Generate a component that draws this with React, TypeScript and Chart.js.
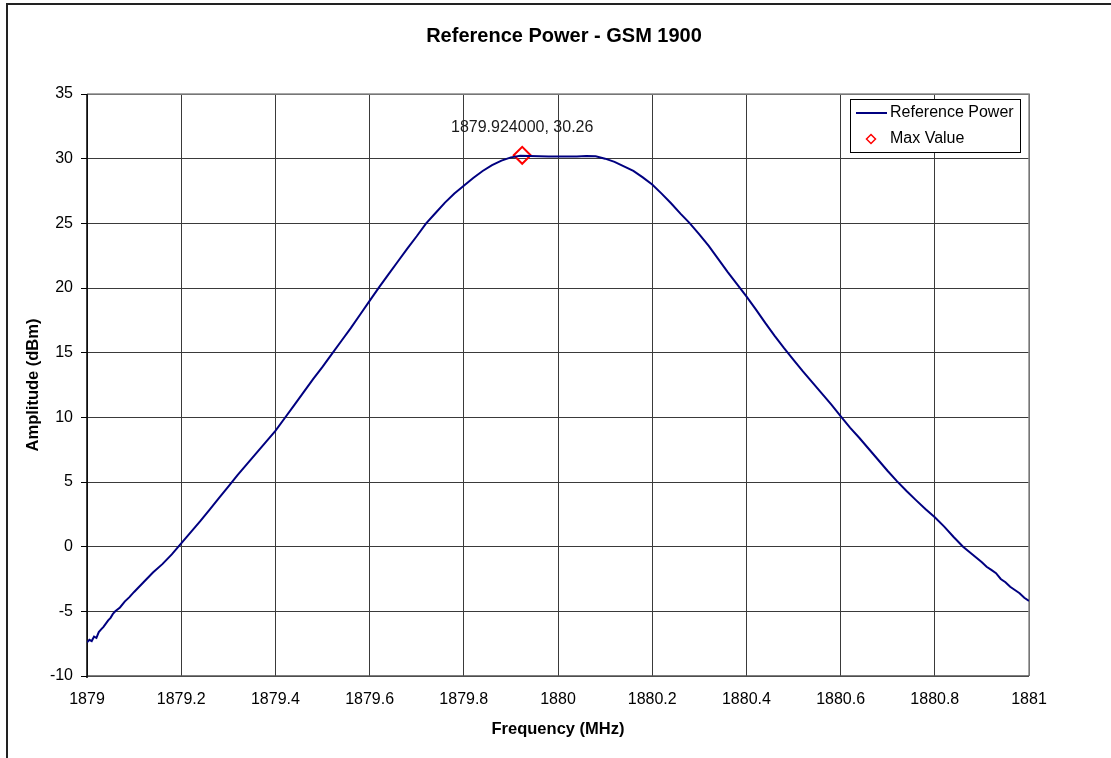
import React, { useEffect, useRef } from "react";
import { Chart, registerables } from "chart.js";

Chart.register(...registerables);

const chartTitle = "Reference Power - GSM 1900";
const xAxisTitle = "Frequency (MHz)";
const yAxisTitle = "Amplitude (dBm)";
const seriesName = "Reference Power";
const maxName = "Max Value";

const freqs = [
  1879.0, 1879.005, 1879.01, 1879.015, 1879.02, 1879.025, 1879.03, 1879.035, 1879.04, 1879.045,
  1879.05, 1879.055, 1879.06, 1879.07, 1879.08, 1879.09, 1879.1,
  1879.12, 1879.14, 1879.16, 1879.18, 1879.2, 1879.22, 1879.24, 1879.26, 1879.28, 1879.3,
  1879.32, 1879.34, 1879.36, 1879.38, 1879.4, 1879.42, 1879.44, 1879.46, 1879.48, 1879.5,
  1879.52, 1879.54, 1879.56, 1879.58, 1879.6, 1879.62, 1879.64, 1879.66, 1879.68, 1879.7,
  1879.72, 1879.74, 1879.76, 1879.78, 1879.8, 1879.82, 1879.84, 1879.86, 1879.88, 1879.9,
  1879.92, 1879.94, 1879.96, 1879.98, 1880.0, 1880.02, 1880.04, 1880.06, 1880.08, 1880.1,
  1880.12, 1880.14, 1880.16, 1880.18, 1880.2, 1880.22, 1880.24, 1880.26, 1880.28, 1880.3,
  1880.32, 1880.34, 1880.36, 1880.38, 1880.4, 1880.42, 1880.44, 1880.46, 1880.48, 1880.5,
  1880.52, 1880.54, 1880.56, 1880.58, 1880.6, 1880.62, 1880.64, 1880.66, 1880.68, 1880.7,
  1880.72, 1880.74, 1880.76, 1880.78, 1880.8, 1880.82, 1880.84, 1880.86, 1880.88, 1880.9,
  1880.91, 1880.92, 1880.93, 1880.94, 1880.95, 1880.96, 1880.97, 1880.98, 1880.99, 1881.0,
];

const power = [
  -7.4, -7.2, -7.3, -6.95, -7.05, -6.6, -6.4, -6.2, -5.95, -5.7,
  -5.5, -5.2, -5.0, -4.7, -4.25, -3.9, -3.5,
  -2.75, -2.0, -1.35, -0.6, 0.25, 1.1, 1.95, 2.85, 3.75, 4.65,
  5.55, 6.4, 7.25, 8.1, 8.95, 9.95, 10.95, 11.95, 12.95, 13.9,
  14.9, 15.9, 16.9, 17.95, 19.0, 20.05, 21.05, 22.05, 23.05, 24.0,
  25.0, 25.8, 26.6, 27.3, 27.9, 28.5, 29.05, 29.5, 29.85, 30.1,
  30.22, 30.2, 30.18, 30.17, 30.16, 30.16, 30.17, 30.2, 30.18, 30.0,
  29.75, 29.4, 29.05, 28.55, 28.0, 27.3, 26.55, 25.75, 25.0, 24.15,
  23.25, 22.25, 21.25, 20.3, 19.35, 18.35, 17.3, 16.3, 15.35, 14.45,
  13.55, 12.7, 11.85, 11.0, 10.1, 9.2, 8.4, 7.55, 6.7, 5.85,
  5.05, 4.3, 3.6, 2.92, 2.27, 1.55, 0.75, 0.0, -0.6, -1.2,
  -1.55, -1.8, -2.05, -2.5, -2.75, -3.1, -3.35, -3.6, -3.95, -4.2,
];

const maxFreq = 1879.924;
const maxPower = 30.26;
const maxLabel = "1879.924000, 30.26";

const xTickValues = [1879, 1879.2, 1879.4, 1879.6, 1879.8, 1880, 1880.2, 1880.4, 1880.6, 1880.8, 1881];
const xTickLabels = ["1879", "1879.2", "1879.4", "1879.6", "1879.8", "1880", "1880.2", "1880.4", "1880.6", "1880.8", "1881"];
const yTickValues = [-10, -5, 0, 5, 10, 15, 20, 25, 30, 35];
const yTickLabels = ["-10", "-5", "0", "5", "10", "15", "20", "25", "30", "35"];

const FONT = "'Liberation Sans', Arial, Helvetica, sans-serif";
const W = 1111;
const H = 758;

const decorPlugin = {
  id: "decor",
  beforeDraw(chart: any) {
    const ctx = chart.ctx;
    ctx.save();
    ctx.fillStyle = "#ffffff";
    ctx.fillRect(0, 0, W, H);
    ctx.strokeStyle = "#222222";
    ctx.lineWidth = 2;
    ctx.strokeRect(7, 4, 1300, 1300);
    ctx.restore();
  },
  beforeDatasetsDraw(chart: any) {
    const { ctx, chartArea } = chart;
    const { left, right, top, bottom } = chartArea;
    ctx.save();
    ctx.lineWidth = 1.5;
    ctx.strokeStyle = "#8a8a8a";
    ctx.beginPath();
    ctx.moveTo(left, top);
    ctx.lineTo(right, top);
    ctx.lineTo(right, bottom);
    ctx.stroke();
    ctx.strokeStyle = "#555555";
    ctx.beginPath();
    ctx.moveTo(left, bottom);
    ctx.lineTo(right, bottom);
    ctx.stroke();
    ctx.strokeStyle = "#000000";
    ctx.lineWidth = 1.5;
    ctx.beginPath();
    ctx.moveTo(left, top);
    ctx.lineTo(left, bottom + 2);
    ctx.stroke();
    ctx.restore();
  },
  afterDraw(chart: any) {
    const { ctx, chartArea, scales } = chart;
    ctx.save();
    ctx.fillStyle = "#000000";
    ctx.textAlign = "center";
    ctx.textBaseline = "middle";
    ctx.font = `bold 20px ${FONT}`;
    ctx.fillText(chartTitle, 564, 36);
    ctx.font = `bold 16.5px ${FONT}`;
    ctx.fillText(xAxisTitle, (chartArea.left + chartArea.right) / 2, 729);
    ctx.save();
    ctx.translate(33, 385);
    ctx.rotate(-Math.PI / 2);
    ctx.fillText(yAxisTitle, 0, 0);
    ctx.restore();
    const mx = scales.x.getPixelForValue(maxFreq);
    const my = scales.y.getPixelForValue(maxPower);
    ctx.font = `16px ${FONT}`;
    ctx.fillStyle = "#1a1a1a";
    ctx.fillText(maxLabel, mx, my - 28);
    ctx.fillStyle = "#ffffff";
    ctx.fillRect(850, 99, 170, 53);
    ctx.strokeStyle = "#000000";
    ctx.lineWidth = 1;
    ctx.strokeRect(850.5, 99.5, 170, 53);
    ctx.strokeStyle = "#000080";
    ctx.lineWidth = 2;
    ctx.beginPath();
    ctx.moveTo(856, 113);
    ctx.lineTo(887, 113);
    ctx.stroke();
    ctx.strokeStyle = "#ff0000";
    ctx.lineWidth = 1.5;
    ctx.beginPath();
    ctx.moveTo(871, 134.5);
    ctx.lineTo(875.5, 139);
    ctx.lineTo(871, 143.5);
    ctx.lineTo(866.5, 139);
    ctx.closePath();
    ctx.stroke();
    ctx.fillStyle = "#000000";
    ctx.textAlign = "left";
    ctx.font = `16px ${FONT}`;
    ctx.fillText(seriesName, 890, 113);
    ctx.fillText(maxName, 890, 139);
    ctx.restore();
  },
};

export default function App() {
  const canvasRef = useRef<HTMLCanvasElement | null>(null);

  useEffect(() => {
    document.body.style.margin = "0";
    const canvas = canvasRef.current;
    if (!canvas) return;
    const chart = new Chart(canvas, {
      type: "scatter",
      data: {
        datasets: [
          {
            label: seriesName,
            data: freqs.map((f, i) => ({ x: f, y: power[i] })),
            showLine: true,
            borderColor: "#000080",
            backgroundColor: "#000080",
            borderWidth: 2,
            pointRadius: 0,
            tension: 0,
          },
          {
            label: maxName,
            data: [{ x: maxFreq, y: maxPower }],
            showLine: false,
            pointStyle: "rectRot",
            pointRadius: 8.5,
            borderColor: "#ff0000",
            backgroundColor: "rgba(0,0,0,0)",
            borderWidth: 2,
          },
        ],
      },
      options: {
        responsive: false,
        animation: false,
        devicePixelRatio: 1,
        layout: { padding: { top: 94, right: 82, bottom: 0, left: 0 } },
        plugins: {
          legend: { display: false },
          title: { display: false },
          tooltip: { enabled: false },
        },
        scales: {
          x: {
            type: "linear",
            min: 1879,
            max: 1881,
            afterBuildTicks: (scale: any) => {
              scale.ticks = xTickValues.map((v) => ({ value: v }));
            },
            afterFit: (scale: any) => {
              scale.height = 82;
            },
            ticks: {
              autoSkip: false,
              maxRotation: 0,
              padding: 14,
              color: "#000000",
              font: { family: FONT, size: 16 },
              callback: (_v: any, i: number) => xTickLabels[i],
            },
            grid: { color: "#3a3a3a", lineWidth: 1, drawTicks: false },
            border: { display: false },
          },
          y: {
            type: "linear",
            min: -10,
            max: 35,
            afterBuildTicks: (scale: any) => {
              scale.ticks = yTickValues.map((v) => ({ value: v }));
            },
            afterFit: (scale: any) => {
              scale.width = 87;
            },
            ticks: {
              autoSkip: false,
              padding: 8,
              color: "#000000",
              font: { family: FONT, size: 16 },
              callback: (_v: any, i: number) => yTickLabels[i],
            },
            grid: { color: "#3a3a3a", lineWidth: 1, drawTicks: true, tickLength: 6, tickColor: "#000000" },
            border: { display: false },
          },
        },
      },
      plugins: [decorPlugin],
    } as any);
    return () => chart.destroy();
  }, []);

  return (
    <div style={{ width: W, height: H }}>
      <canvas ref={canvasRef} width={W} height={H} style={{ display: "block" }} />
    </div>
  );
}
